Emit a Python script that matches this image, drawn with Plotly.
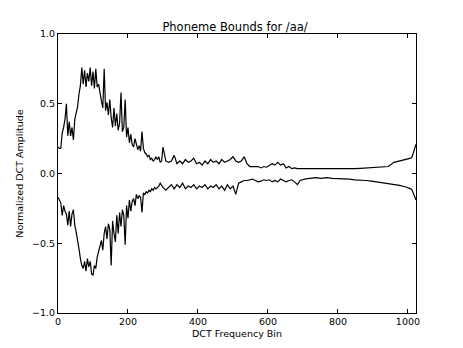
import plotly.graph_objects as go

# x positions (DCT bins) where values were read
bins_a = list(range(0, 300, 4))
bins_b = list(range(300, 700, 8))
bins_c = list(range(704, 1009, 16)) + [1012, 1016, 1020, 1023]
bins = bins_a + bins_b + bins_c

upper_a = [0.19, 0.18, 0.18, 0.29, 0.33, 0.39, 0.50, 0.27, 0.37, 0.27,
           0.33, 0.24, 0.39, 0.43, 0.48, 0.57, 0.63, 0.76, 0.64, 0.74,
           0.62, 0.72, 0.66, 0.76, 0.63, 0.73, 0.61, 0.75, 0.62, 0.64,
           0.56, 0.52, 0.47, 0.75, 0.45, 0.51, 0.42, 0.53, 0.40, 0.33,
           0.47, 0.34, 0.43, 0.31, 0.36, 0.58, 0.30, 0.33, 0.53, 0.26,
           0.33, 0.22, 0.28, 0.21, 0.19, 0.25, 0.21, 0.17, 0.20, 0.16,
           0.30, 0.18, 0.15, 0.14, 0.12, 0.13, 0.10, 0.11, 0.09, 0.10,
           0.12, 0.10, 0.12, 0.08, 0.09]
upper_b = [0.19, 0.09, 0.08, 0.09, 0.13, 0.07, 0.09, 0.07, 0.10, 0.08,
           0.09, 0.11, 0.07, 0.08, 0.06, 0.09, 0.07, 0.10, 0.08, 0.09,
           0.07, 0.10, 0.08, 0.09, 0.10, 0.12, 0.09, 0.08, 0.09, 0.12,
           0.07, 0.05, 0.05, 0.045, 0.05, 0.04, 0.05, 0.045, 0.06, 0.07,
           0.06, 0.08, 0.06, 0.07, 0.04, 0.05, 0.035, 0.04, 0.035, 0.035]
upper_c = [0.035, 0.03, 0.035, 0.03, 0.03, 0.03, 0.03, 0.032, 0.035, 0.035,
           0.037, 0.04, 0.042, 0.045, 0.045, 0.05, 0.08, 0.09, 0.10, 0.11,
           0.12, 0.15, 0.19, 0.21]
upper = upper_a + upper_b + upper_c

lower_a = [-0.17, -0.19, -0.21, -0.30, -0.23, -0.27, -0.29, -0.37, -0.27, -0.38,
           -0.29, -0.26, -0.37, -0.42, -0.50, -0.54, -0.61, -0.66, -0.68, -0.63,
           -0.70, -0.61, -0.67, -0.63, -0.72, -0.73, -0.66, -0.68, -0.60, -0.56,
           -0.52, -0.48, -0.55, -0.43, -0.38, -0.47, -0.36, -0.40, -0.66, -0.34,
           -0.43, -0.49, -0.30, -0.43, -0.28, -0.38, -0.26, -0.30, -0.51, -0.23,
           -0.32, -0.19, -0.27, -0.20, -0.18, -0.23, -0.15, -0.18, -0.16, -0.17,
           -0.28, -0.14, -0.15, -0.13, -0.14, -0.12, -0.13, -0.11, -0.12, -0.10,
           -0.11, -0.10, -0.09, -0.07, -0.09]
lower_b = [-0.10, -0.12, -0.10, -0.08, -0.11, -0.08, -0.10, -0.07, -0.11, -0.09,
           -0.10, -0.08, -0.11, -0.09, -0.10, -0.08, -0.11, -0.09, -0.10, -0.08,
           -0.11, -0.09, -0.12, -0.08, -0.11, -0.09, -0.15, -0.07, -0.06, -0.05,
           -0.05, -0.045, -0.04, -0.05, -0.06, -0.055, -0.045, -0.05, -0.045, -0.06,
           -0.05, -0.06, -0.04, -0.05, -0.06, -0.05, -0.045, -0.06, -0.08, -0.05]
lower_c = [-0.04, -0.035, -0.03, -0.035, -0.03, -0.035, -0.035, -0.038, -0.04, -0.045,
           -0.045, -0.05, -0.055, -0.06, -0.065, -0.07, -0.075, -0.085, -0.095, -0.11,
           -0.12, -0.14, -0.17, -0.19]
lower = lower_a + lower_b + lower_c

x_ticks = [0, 200, 400, 600, 800, 1000]
y_ticks = [-1.0, -0.5, 0.0, 0.5, 1.0]

FONT = "DejaVu Sans"

fig = go.Figure()
fig.add_trace(go.Scatter(x=bins, y=upper, mode="lines",
                         line=dict(color="black", width=1.2), showlegend=False))
fig.add_trace(go.Scatter(x=bins, y=lower, mode="lines",
                         line=dict(color="black", width=1.2), showlegend=False))

axis_common = dict(showline=True, linecolor="black", linewidth=1, mirror="ticks",
                   ticks="inside", ticklen=4, tickcolor="black", showgrid=False,
                   zeroline=False, automargin=False,
                   tickfont=dict(family=FONT, size=9.5, color="black"))

# the page body adds an 8px offset; margins compensate for it
fig.update_layout(
    width=463, height=348,
    margin=dict(l=50, r=55, t=26, b=43, autoexpand=False),
    paper_bgcolor="white", plot_bgcolor="white",
    title=dict(text="Phoneme Bounds for /aa/", x=(50 + 179) / 463, xanchor="center",
               xref="paper", y=1 - 19 / 348, yanchor="middle",
               font=dict(family=FONT, size=11.5, color="black")),
    xaxis=dict(range=[0, 1023], tickvals=x_ticks,
               title=dict(text="DCT Frequency Bin", standoff=3,
                          font=dict(family=FONT, size=9.5, color="black")),
               **axis_common),
    yaxis=dict(range=[-1, 1], tickvals=y_ticks, tickformat=".1f",
               title=dict(text="Normalized DCT Amplitude", standoff=6,
                          font=dict(family=FONT, size=9.5, color="black")),
               **axis_common),
)

fig.write_html("out.html")
